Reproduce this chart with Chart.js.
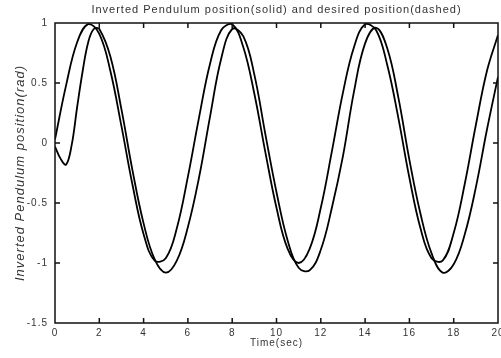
<!DOCTYPE html>
<html>
<head>
<meta charset="utf-8">
<script src="https://cdn.jsdelivr.net/npm/chart.js@4.4.1/dist/chart.umd.min.js"></script>
<style>
  html, body { margin: 0; padding: 0; background: #fff; }
  canvas { display: block; }
  #err { position: absolute; left: 60px; top: 150px; color: red; font: 11px sans-serif; }
</style>
</head>
<body>
<canvas id="chart" width="501" height="358"></canvas>
<div id="err"></div>
<script>
window.onerror = (msg) => { document.getElementById("err").textContent = msg; };

// desired position (sampled every 0.5 s)
const desiredTime = [0, 0.5, 1, 1.5, 2, 2.5, 3, 3.5, 4, 4.5, 5, 5.5, 6, 6.5, 7, 7.5, 8, 8.5, 9, 9.5,
  10, 10.5, 11, 11.5, 12, 12.5, 13, 13.5, 14, 14.5, 15, 15.5, 16, 16.5, 17, 17.5, 18, 18.5, 19, 19.5, 20];
const desiredPos = [0.03, 0.48, 0.84, 0.99, 0.91, 0.6, 0.14, -0.35, -0.76, -0.98, -0.96, -0.71, -0.28, 0.21, 0.66, 0.94,
  0.99, 0.8, 0.41, -0.08, -0.54, -0.88, -1.0, -0.88, -0.54, -0.07, 0.42, 0.8, 0.99, 0.94, 0.65, 0.21, -0.29, -0.71,
  -0.96, -0.98, -0.75, -0.34, 0.15, 0.6, 0.9];

// pendulum position (denser at start for the initial dip)
const pendulumTime = [0, 0.25, 0.5, 0.75, 1, 1.25, 1.5, 1.75, 2, 2.5, 3, 3.5, 4, 4.5, 5, 5.5, 6, 6.5, 7, 7.5, 8, 8.5, 9, 9.5,
  10, 10.5, 11, 11.5, 12, 12.5, 13, 13.5, 14, 14.5, 15, 15.5, 16, 16.5, 17, 17.5, 18, 18.5, 19, 19.5, 20];
const pendulumPos = [-0.03, -0.13, -0.18, -0.02, 0.3, 0.6, 0.84, 0.95, 0.95, 0.72, 0.28, -0.23, -0.67, -0.97, -1.08, -0.98,
  -0.7, -0.29, 0.22, 0.7, 0.95, 0.89, 0.57, 0.07, -0.41, -0.81, -1.04, -1.06, -0.89, -0.54, -0.11, 0.43, 0.83, 0.96,
  0.79, 0.38, -0.14, -0.59, -0.92, -1.08, -1.01, -0.76, -0.37, 0.11, 0.55];

const xTicks = { min: 0, max: 20, step: 2 };
const yTicks = { min: -1.5, max: 1, step: 0.5 };

const textFont = "'Liberation Sans', Arial, sans-serif";

// MATLAB style box with inward ticks on all four sides
const boxPlugin = {
  id: "matlabBox",
  beforeDraw(chart) {
    chart.ctx.letterSpacing = "1px";
  },
  afterDatasetsDraw(chart) {
    const { ctx, chartArea, scales } = chart;
    const l = chartArea.left, r = chartArea.right, t = chartArea.top, b = chartArea.bottom;
    ctx.save();
    ctx.strokeStyle = "#111";
    ctx.lineWidth = 1.5;
    ctx.beginPath();
    ctx.rect(l, t, r - l, b - t);
    const len = 5;
    scales.x.ticks.forEach((tk) => {
      const px = scales.x.getPixelForValue(tk.value);
      ctx.moveTo(px, b); ctx.lineTo(px, b - len);
      ctx.moveTo(px, t); ctx.lineTo(px, t + len);
    });
    scales.y.ticks.forEach((tk) => {
      const py = scales.y.getPixelForValue(tk.value);
      ctx.moveTo(l, py); ctx.lineTo(l + len, py);
      ctx.moveTo(r, py); ctx.lineTo(r - len, py);
    });
    ctx.stroke();
    ctx.restore();
  },
};

new Chart(document.getElementById("chart"), {
  type: "line",
  data: {
    datasets: [
      {
        label: "desired",
        data: desiredTime.map((t, i) => ({ x: t, y: desiredPos[i] })),
        borderColor: "#000",
        borderWidth: 1.8,
        pointRadius: 0,
        tension: 0.4,
      },
      {
        label: "pendulum",
        data: pendulumTime.map((t, i) => ({ x: t, y: pendulumPos[i] })),
        borderColor: "#000",
        borderWidth: 1.8,
        pointRadius: 0,
        tension: 0.4,
      },
    ],
  },
  options: {
    responsive: false,
    animation: false,
    devicePixelRatio: 1,
    layout: { padding: { left: 0, right: 3, top: 0, bottom: 0 } },
    plugins: {
      legend: { display: false },
      tooltip: { enabled: false },
      title: {
        display: true,
        fullSize: false,
        text: "Inverted Pendulum position(solid) and desired position(dashed)",
        color: "#333",
        font: { family: textFont, size: 11, weight: "normal" },
        padding: { top: 3, bottom: 6.8 },
      },
    },
    scales: {
      x: {
        type: "linear",
        min: xTicks.min,
        max: xTicks.max,
        grid: { display: false, drawTicks: false, tickLength: 0 },
        border: { display: false },
        ticks: {
          stepSize: xTicks.step,
          maxRotation: 0,
          padding: 4,
          color: "#333",
          font: { family: textFont, size: 10 },
          callback: (v) => String(v),
        },
        title: {
          display: true,
          text: "Time(sec)",
          color: "#333",
          font: { family: textFont, size: 10 },
          padding: { top: 0, bottom: 9 },
        },
        afterFit(scale) {
          scale.height = 35;
          scale.paddingLeft = 0;
          scale.paddingRight = 0;
        },
      },
      y: {
        min: yTicks.min,
        max: yTicks.max,
        grid: { display: false, drawTicks: false, tickLength: 0 },
        border: { display: false },
        ticks: {
          stepSize: yTicks.step,
          padding: 7,
          color: "#333",
          font: { family: textFont, size: 10 },
          callback: (v) => String(v),
        },
        title: {
          display: true,
          text: "Inverted Pendulum position(rad)",
          color: "#333",
          font: { family: textFont, size: 13, style: "italic" },
          padding: { top: 13, bottom: 0 },
        },
        afterFit(scale) {
          scale.width = 55;
          scale.paddingTop = 0;
          scale.paddingBottom = 0;
        },
      },
    },
  },
  plugins: [boxPlugin],
});
</script>
</body>
</html>
